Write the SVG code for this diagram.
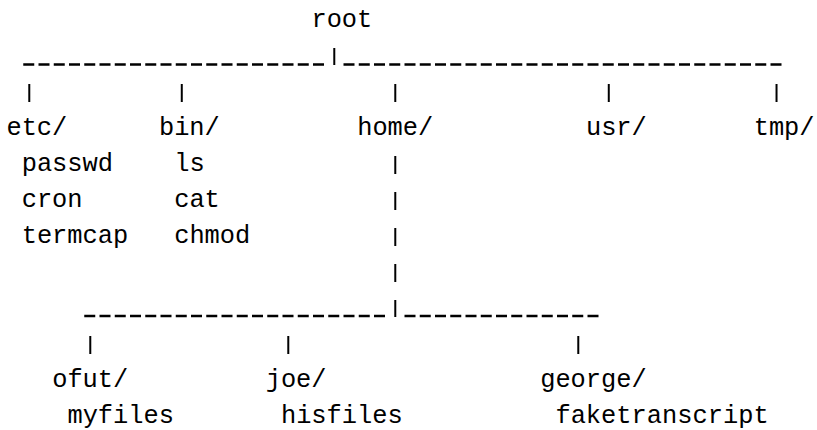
<svg xmlns="http://www.w3.org/2000/svg" width="817" height="430" viewBox="0 0 817 430">
<style>
  text { font-family: "Liberation Mono", "DejaVu Sans Mono", monospace; font-size: 25.4px; fill: #000; }
  .dash { stroke: #000; stroke-width: 2.4; stroke-dasharray: 11 4.25; fill: none; }
  .bar { stroke: #000; stroke-width: 2; fill: none; }
</style>
<rect width="817" height="430" fill="#fff"/>
<g id="connectors">
  <line class="dash" x1="23.25" y1="64.5" x2="324" y2="64.5"/>
  <line class="dash" x1="343.5" y1="64.5" x2="781.5" y2="64.5"/>
  <line class="bar" x1="334.28" y1="48" x2="334.28" y2="65"/>
  <line class="bar" x1="29.28" y1="84" x2="29.28" y2="102"/>
  <line class="bar" x1="181.78" y1="84" x2="181.78" y2="102"/>
  <line class="bar" x1="395.28" y1="84" x2="395.28" y2="102"/>
  <line class="bar" x1="608.78" y1="84" x2="608.78" y2="102"/>
  <line class="bar" x1="776.53" y1="84" x2="776.53" y2="102"/>
  <line class="bar" x1="395.28" y1="156" x2="395.28" y2="174"/>
  <line class="bar" x1="395.28" y1="192" x2="395.28" y2="210"/>
  <line class="bar" x1="395.28" y1="228" x2="395.28" y2="246"/>
  <line class="bar" x1="395.28" y1="264" x2="395.28" y2="282"/>
  <line class="bar" x1="395.28" y1="300" x2="395.28" y2="317"/>
  <line class="dash" x1="84.25" y1="316" x2="385" y2="316"/>
  <line class="dash" x1="404.5" y1="316" x2="598.5" y2="316"/>
  <line class="bar" x1="90.28" y1="336" x2="90.28" y2="354"/>
  <line class="bar" x1="288.28" y1="336" x2="288.28" y2="354"/>
  <line class="bar" x1="578.28" y1="336" x2="578.28" y2="354"/>
</g>
<g id="root"><text x="311.4" y="27">root</text></g>
<g id="etc">
  <text x="6.4" y="135">etc/</text>
  <text x="21.65" y="171">passwd</text>
  <text x="21.65" y="207">cron</text>
  <text x="21.65" y="243">termcap</text>
</g>
<g id="bin">
  <text x="158.9" y="135">bin/</text>
  <text x="174.15" y="171">ls</text>
  <text x="174.15" y="207">cat</text>
  <text x="174.15" y="243">chmod</text>
</g>
<g id="home"><text x="357.15" y="135">home/</text></g>
<g id="usr"><text x="585.9" y="135">usr/</text></g>
<g id="tmp"><text x="753.65" y="135">tmp/</text></g>
<g id="ofut">
  <text x="52.15" y="387">ofut/</text>
  <text x="67.4" y="423">myfiles</text>
</g>
<g id="joe">
  <text x="265.65" y="387">joe/</text>
  <text x="280.9" y="423">hisfiles</text>
</g>
<g id="george">
  <text x="540.15" y="387">george/</text>
  <text x="555.4" y="423">faketranscript</text>
</g>
</svg>
